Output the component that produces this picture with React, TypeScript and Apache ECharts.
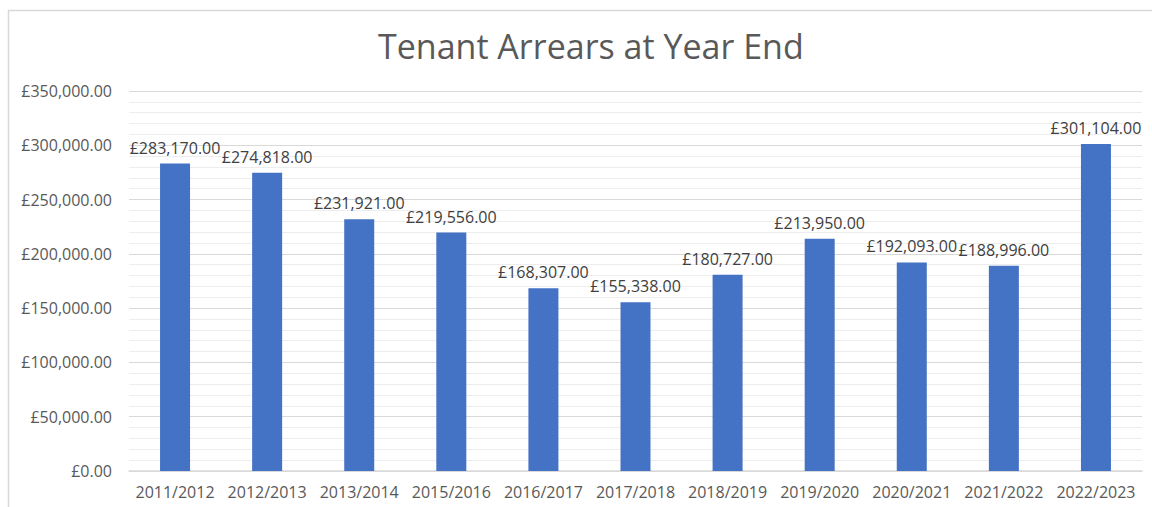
import React, { useEffect, useRef } from "react";
import * as echarts from "echarts";

const categories = [
  "2011/2012", "2012/2013", "2013/2014", "2015/2016", "2016/2017", "2017/2018",
  "2018/2019", "2019/2020", "2020/2021", "2021/2022", "2022/2023",
];
const arrears = [283170, 274818, 231921, 219556, 168307, 155338, 180727, 213950, 192093, 188996, 301104];
const titleText = "Tenant Arrears at Year End";
const yMin = 0;
const yMax = 350000;
const yInterval = 50000;

const fmt = (v: number) =>
  "£" + v.toLocaleString("en-GB", { minimumFractionDigits: 2, maximumFractionDigits: 2 });

const FONT = "'Open Sans', 'Noto Sans', sans-serif";

export default function App() {
  const ref = useRef<HTMLDivElement>(null);
  useEffect(() => {
    const chart = echarts.init(ref.current!, null, { renderer: "svg" });
    chart.setOption({
      animation: false,
      backgroundColor: "#ffffff",
      title: {
        text: titleText,
        left: 373,
        top: 24,
        textStyle: { fontFamily: FONT, fontSize: 34, fontWeight: "normal", color: "#595959" },
      },
      graphic: [
        {
          type: "rect",
          shape: { x: 8.5, y: 10.5, width: 1160, height: 520 },
          style: { fill: "none", stroke: "#d9d9d9", lineWidth: 1.5 },
          silent: true,
        },
      ],
      grid: { left: 129, right: 10, top: 91, bottom: 36 },
      xAxis: {
        type: "category",
        data: categories,
        axisTick: { show: false },
        axisLine: { lineStyle: { color: "#d9d9d9", width: 1.5 } },
        axisLabel: { interval: 0, fontFamily: FONT, fontSize: 16, color: "#595959", margin: 13 },
      },
      yAxis: {
        type: "value",
        min: yMin,
        max: yMax,
        interval: yInterval,
        axisLine: { show: false },
        axisTick: { show: false },
        axisLabel: {
          fontFamily: FONT,
          fontSize: 16,
          color: "#595959",
          margin: 17,
          formatter: (v: number) => fmt(v),
        },
        splitLine: { lineStyle: { color: "#d9d9d9", width: 1.2 } },
        minorTick: { show: false, splitNumber: 5 },
        minorSplitLine: { show: true, lineStyle: { color: "#ededed", width: 1 } },
      },
      series: [
        {
          type: "bar",
          data: arrears,
          barWidth: 30,
          itemStyle: { color: "#4472C4" },
          label: {
            show: true,
            position: "top",
            distance: 8,
            fontFamily: FONT,
            fontSize: 16,
            color: "#404040",
            formatter: (p: any) => fmt(p.value),
          },
        },
      ],
    });
    return () => chart.dispose();
  }, []);
  return (
    <div
      ref={ref}
      style={{ position: "absolute", left: 0, top: 0, width: 1152, height: 507 }}
    />
  );
}
